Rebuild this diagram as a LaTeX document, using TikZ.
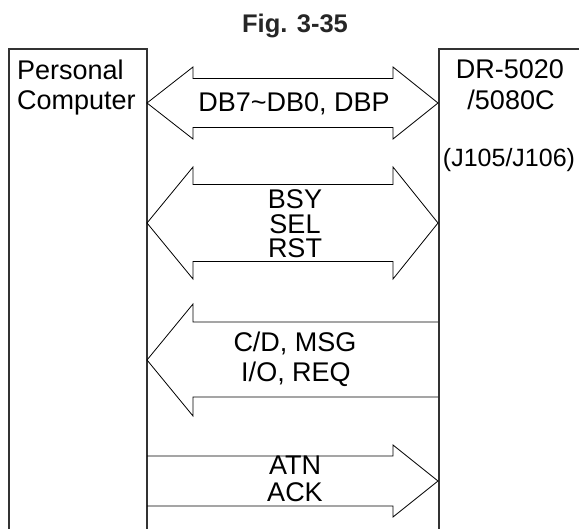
\documentclass[tikz,border=0pt]{standalone}
\usepackage{fontspec}
\setmainfont{Liberation Sans}
\usetikzlibrary{positioning}

\begin{document}
\begin{tikzpicture}[x=1pt,y=-1pt,
  lbl/.style={font=\fontsize{27}{30}\selectfont,inner sep=0pt,anchor=base},
  busline/.style={black,line width=0.8pt,line join=miter},
  boxline/.style={black!80,line width=1.3pt}]
\useasboundingbox (0,0) rectangle (579,529);
\clip (0,0) rectangle (579,529);
% Title
\node[font=\bfseries\fontsize{25.5}{28}\selectfont,inner sep=0pt,anchor=base,black!85] (title) at (295,33) {Fig. 3-35};
% The two units (open at the bottom / right)
\draw[boxline] (9,560) -- (9,49) -- (147,49) -- (147,560);
\draw[boxline] (600,49) -- (439,49) -- (439,560);
\node[lbl,anchor=base west] (pc1) at (17,80) {Personal};
\node[lbl,anchor=base west] (pc2) at (17,110) {Computer};
\node[lbl] (dr1) at (510,79) {DR-5020};
\node[lbl] (dr2) at (511,110) {/5080C};
\node[lbl,font=\fontsize{25}{28}\selectfont] (dr3) at (509,167) {(J105/J106)};
% Data bus (both ways)
\draw[busline] (147,103) -- (193,67) -- (193,78.5) -- (393,78.5) -- (393,67) -- (438,103)
  -- (393,139) -- (393,127.5) -- (193,127.5) -- (193,139) -- cycle;
\node[lbl] (dbus) at (294,112) {DB7\textasciitilde DB0, DBP};
% Control lines (both ways)
\draw[busline] (147,223) -- (193,167) -- (193,184.5) -- (393,184.5) -- (393,167) -- (438,223)
  -- (393,279) -- (393,261.5) -- (193,261.5) -- (193,279) -- cycle;
\node[lbl] (bsy) at (295,209) {BSY};
\node[lbl] (sel) at (295,234) {SEL};
\node[lbl] (rst) at (295,258) {RST};
% Target -> computer
\draw[busline] (438,322) -- (193,322) -- (193,304) -- (147,360) -- (193,416) -- (193,397) -- (438,397);
\node[lbl] (cdmsg) at (295,352) {C/D, MSG};
\node[lbl] (ioreq) at (296,382) {I/O, REQ};
% Computer -> target
\draw[busline] (147,456) -- (393,456) -- (393,445) -- (438,481) -- (393,517) -- (393,506) -- (147,506);
\node[lbl] (atn) at (295,475) {ATN};
\node[lbl] (ack) at (295,501) {ACK};
\end{tikzpicture}
\end{document}
